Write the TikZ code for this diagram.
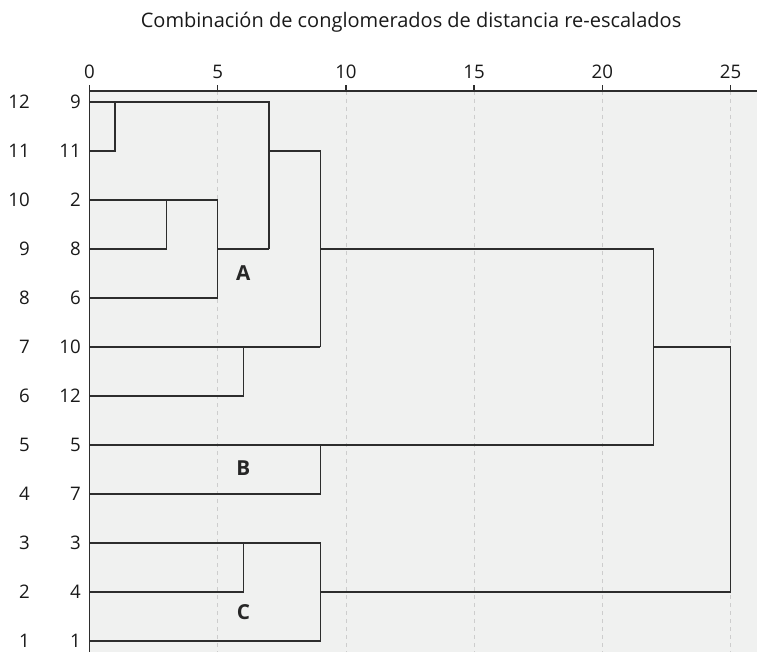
\documentclass[tikz,border=0pt]{standalone}
\usepackage{fontspec}
\setmainfont{Open Sans}
\usepackage{tikz}
\usetikzlibrary{positioning, calc}
\definecolor{plotbg}{RGB}{240, 241, 240}
\definecolor{gridcolor}{RGB}{205, 205, 205}
\definecolor{linkcolor}{RGB}{45, 45, 45}

\begin{document}
\begin{tikzpicture}[x=19.23pt, y=36.75pt,
    rank/.style={anchor=east, font=\fontsize{14}{16}\selectfont, text=black!90, inner sep=0pt},
    case/.style={anchor=east, font=\fontsize{14}{16}\selectfont, text=black!90, inner sep=0pt},
    tick/.style={font=\fontsize{14}{16}\selectfont, text=black!90, inner sep=0pt},
    link/.style={linkcolor, line width=1.1pt},
    group/.style={font=\fontsize{15.5}{18}\selectfont\bfseries, text=black!85}]
    \useasboundingbox (-3.49, 0.776) rectangle (26.03, 14.08);

    % Plot area
    \fill[plotbg] (0, 0.776) rectangle (26.03, 12.224);
    \foreach \d in {5, 10, 15, 20, 25} {
        \draw[gridcolor, line width=0.6pt, dash pattern=on 3pt off 3pt] (\d, 12.224) -- (\d, 0.776);
    }

    % Title and axis
    \node[font=\fontsize{15}{18}\selectfont, text=black!90] (title) at (12.54, 13.63) {Combinación de conglomerados de distancia re-escalados};
    \draw[linkcolor, line width=1.1pt] (0, 12.224) -- (26.03, 12.224);
    \draw[linkcolor, line width=1.1pt] (0, 12.35) -- (0, 0.776);
    \foreach \d in {5, 10, 15, 20, 25} {
        \draw[linkcolor, line width=1.1pt] (\d, 12.224) -- (\d, 12.35);
    }
    \foreach \d in {0, 5, 10, 15, 20, 25} {
        \node[tick] (t\d) at (\d, 12.61) {\d};
    }

    % Leaves
    \foreach \r/\c in {12/9, 11/11, 10/2, 9/8, 8/6, 7/10, 6/12, 5/5, 4/7, 3/3, 2/4, 1/1} {
        \node[rank] (r\r) at (-2.32, \r) {\r};
        \node[case] (n\c) at (-0.33, \r) {\c};
        \coordinate (l\c) at (0, \r);
    }

    % Merge points
    \coordinate (a1) at (1, 12);
    \coordinate (a2) at (3, 10);
    \coordinate (a3) at (5, 10);
    \coordinate (a4) at (7, 12);
    \coordinate (a5) at (6, 7);
    \coordinate (kA) at (9, 9);
    \coordinate (kB) at (9, 5);
    \coordinate (c1) at (6, 3);
    \coordinate (kC) at (9, 2);
    \coordinate (kAB) at (22, 7);
    \coordinate (root) at (25, 2);

    % Group A
    \draw[link] (l11) -| (a1);
    \draw[link] (l9) -| (a4 |- l8);
    \draw[link] (l8) -| (a2);
    \draw[link] (l2) -| (a3 |- l6) -- (l6);
    \draw[link] (a3 |- l8) -- (a4 |- l8);
    \draw[link] (l12) -| (a5);
    \draw[link] (l10) -- (kA |- l10);
    \draw[link] (a4 |- l11) -| (kA |- l10);

    % Group B
    \draw[link] (l5) -| (kAB |- kA);
    \draw[link] (l7) -| (kB);
    \draw[link] (kA) -- (kAB |- kA);

    % Group C
    \draw[link] (l3) -| (kC |- l1) -- (l1);
    \draw[link] (l4) -| (c1);
    \draw[link] (kAB) -| (root) -- (kC);

    % Group labels
    \node[group] (gA) at (6, 8.51) {A};
    \node[group] (gB) at (6, 4.53) {B};
    \node[group] (gC) at (6, 1.59) {C};
\end{tikzpicture}
\end{document}
